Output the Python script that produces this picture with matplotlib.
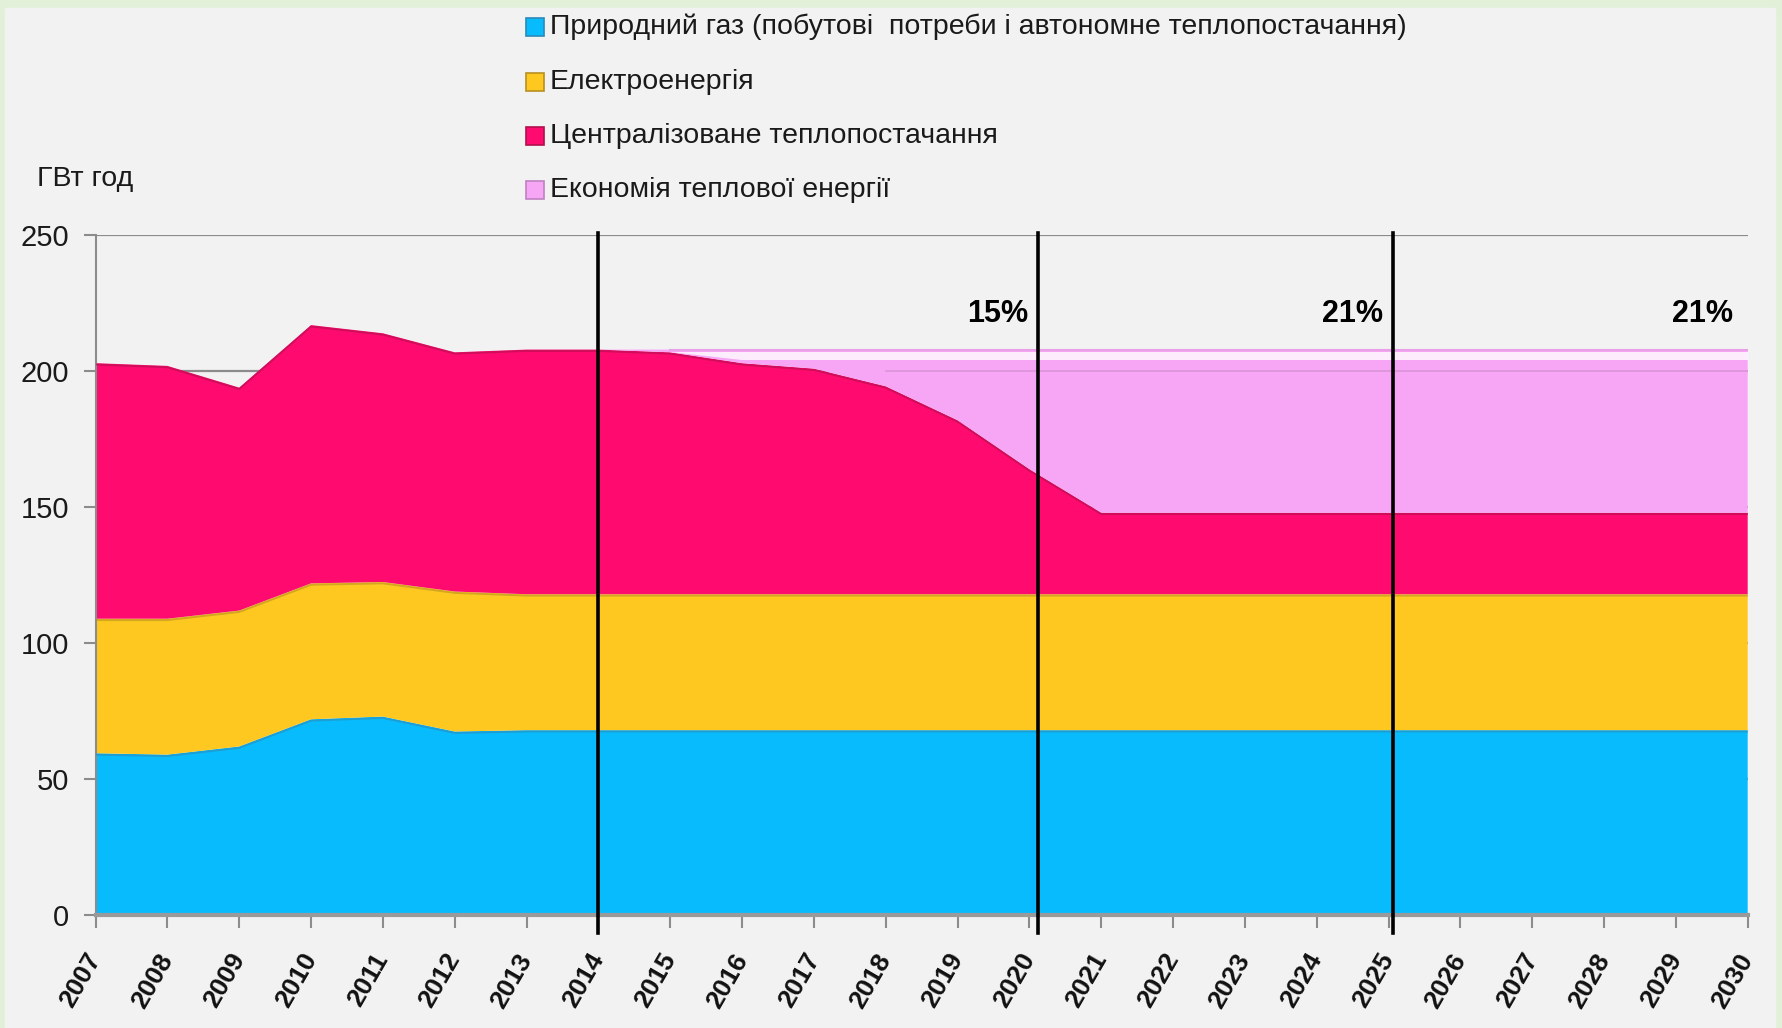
import numpy as np
import matplotlib
matplotlib.use("Agg")
import matplotlib.pyplot as plt
from matplotlib import font_manager
from matplotlib.patches import Rectangle

# data (GWh, stacked)
years = list(range(2007, 2031))
gas = [59.5, 59, 62, 72, 73, 67.5, 68, 68, 68, 68, 68, 68, 68, 68, 68, 68,
       68, 68, 68, 68, 68, 68, 68, 68]
elec = [49.5, 50, 50, 50, 49.5, 51.5, 50, 50, 50, 50, 50, 50, 50, 50, 50, 50,
        50, 50, 50, 50, 50, 50, 50, 50]
central = [94, 93, 82, 95, 91.5, 88, 90, 90, 89, 85, 83, 76.5, 64, 46, 30, 30,
           30, 30, 30, 30, 30, 30, 30, 30]
economy = [0, 0, 0, 0, 0, 0, 0, 0, 1, 5, 7, 13.5, 26, 44, 60, 60,
           60, 60, 60, 60, 60, 60, 60, 60]

labels = ["Природний газ (побутові  потреби і автономне теплопостачання)",
          "Електроенергія",
          "Централізоване теплопостачання",
          "Економія теплової енергії"]
colors = ["#08bbfd", "#fec820", "#ff0a6e", "#f7a6f5"]
edge_colors = ["#2a8ab8", "#b89020", "#b0104e", "#c080c0"]

# savings milestones
milestones = [(2014.0, None), (2020.12, "15%"), (2025.06, "21%")]
end_label = (2029.8, "21%")

names = {f.name for f in font_manager.fontManager.ttflist}
narrow = "Liberation Sans Narrow" if "Liberation Sans Narrow" in names else "Liberation Sans"
arial = "Liberation Sans"

fig = plt.figure(figsize=(17.83, 10.28), dpi=100)
fig.patch.set_facecolor("#e2f0da")
fig.add_artist(Rectangle((5 / 1783, 0), 1770 / 1783, 1020 / 1028,
                         transform=fig.transFigure, color="#f2f2f2", zorder=0))

ax = fig.add_axes([0.0536, 0.1099, 0.9266, 0.6611])
ax.set_facecolor("#f2f2f2")

x = np.array(years, dtype=float)
layers = [np.array(s, dtype=float) for s in (gas, elec, central, economy)]
ax.stackplot(x, *layers, colors=colors, zorder=2)

# soft darker edge along top of each band
tops = np.cumsum(layers, axis=0)
for top, ec in zip(tops[:3], edge_colors):
    ax.plot(x, top - 0.5, color=ec, lw=1.4, alpha=0.6, zorder=3)
# bevel on the top of the saving band
total = tops[-1]
eco = layers[-1]
ax.fill_between(x, total - 1.0, total - 4.0, where=eco >= 5, interpolate=True,
                color="white", alpha=0.8, lw=0, zorder=3)
ax.plot(x, np.where(eco > 0, total - 0.3, np.nan), color="#e9a0e6", lw=1.5, zorder=3)
ax.plot(x, np.where(eco > 9, total - 8, np.nan), color="#d890d4", lw=1.3,
        alpha=0.8, zorder=3)

ax.set_xlim(2007, 2030)
ax.set_ylim(0, 250)
ax.set_yticks(range(0, 251, 50))
ax.set_xticks(years)
ax.yaxis.grid(True, color="#8c8c8c", lw=1.6, zorder=1)
ax.set_axisbelow(True)

for s in ("top", "right"):
    ax.spines[s].set_visible(False)
ax.spines["left"].set_color("#8c8c8c")
ax.spines["left"].set_linewidth(1.5)
ax.spines["bottom"].set_color("#9a9a9a")
ax.spines["bottom"].set_linewidth(3)

ax.tick_params(axis="y", length=9, width=1.5, color="#8c8c8c", pad=10,
               labelsize=21, labelcolor="#1a1a1a")
ax.tick_params(axis="x", length=9, width=1.5, color="#8c8c8c", pad=20)
for lab in ax.get_yticklabels():
    lab.set_family(narrow)
ax.set_xticklabels([str(y) for y in years], rotation=60, ha="right",
                   va="center", rotation_mode="anchor", fontsize=19,
                   fontweight="bold", family=arial, color="#111111")

for yr, txt in milestones:
    ax.plot([yr, yr], [-6.5, 251], color="black", lw=2.6, clip_on=False, zorder=5)
    if txt:
        ax.text(yr - 0.14, 221, txt, ha="right", va="center", fontsize=22,
                fontweight="bold", family=arial, color="black")
ax.text(end_label[0], 221, end_label[1], ha="right", va="center", fontsize=22,
        fontweight="bold", family=arial, color="black")

# legend at the top
row_y = [27, 82, 136, 190]
for lab, c, ec, ry in zip(labels, colors, edge_colors, row_y):
    fy = 1 - ry / 1028
    fig.add_artist(Rectangle((526 / 1783, fy - 9 / 1028), 18 / 1783, 18 / 1028,
                             transform=fig.transFigure, facecolor=c,
                             edgecolor=ec, lw=1.2, zorder=3))
    fig.text(550 / 1783, fy, lab, ha="left", va="center", fontsize=20.5,
             family=narrow, color="#1a1a1a")

fig.text(37 / 1783, 1 - 179 / 1028, "ГВт год", ha="left", va="center",
         fontsize=20.5, family=narrow, color="#1a1a1a")

fig.savefig("out.png", dpi=100, facecolor=fig.get_facecolor())
